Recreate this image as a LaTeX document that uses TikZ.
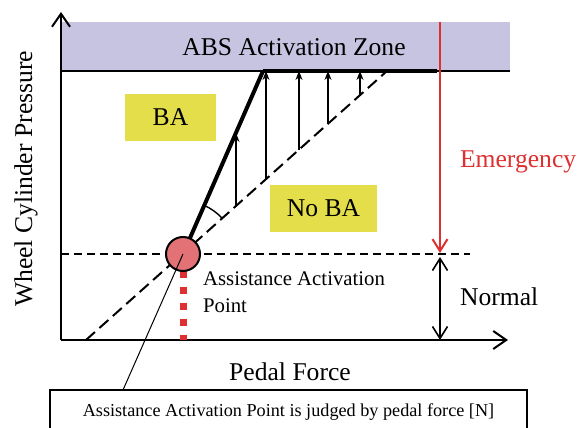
\documentclass[tikz,border=0pt]{standalone}
\usepackage{fontspec}
\setmainfont{Liberation Serif}
\usetikzlibrary{arrows.meta}

\definecolor{abszone}{RGB}{199,196,226}
\definecolor{bayellow}{RGB}{228,222,74}
\definecolor{aptfill}{RGB}{226,114,118}
\definecolor{emred}{RGB}{222,48,48}

\begin{document}
\begin{tikzpicture}[x=0.5pt, y=0.5pt,
    axis/.style={line width=1pt, -{Straight Barb[length=6.5pt, width=9pt]}},
    lift/.style={line width=0.6pt, -{Stealth[length=4.5pt, width=3.5pt]}},
    zonebox/.style={fill=bayellow, minimum width=45.5pt, minimum height=23.5pt, font=\fontsize{12.8}{15}\selectfont},
    big/.style={font=\fontsize{12.8}{15}\selectfont}]

    \clip (0,0) rectangle (580,428);

    %% Pressure vs pedal force diagram

    % ABS zone
    \fill[abszone] (61,357) rectangle (510,406);
    \node[big] (abs) at (294,381) {ABS Activation Zone};
    \draw[line width=0.9pt] (61,357) -- (510,357);
    \draw[line width=1.6pt] (263,357) -- (437,357);

    % Axes
    \coordinate (O) at (61,88);
    \draw[axis] (O) -- (61,416);
    \draw[axis] (O) -- (508,88);
    \node[big, rotate=90] (ylab) at (26,249) {Wheel Cylinder Pressure};
    \node[big] (xlab) at (290,56) {Pedal Force};

    % Activation level
    \draw[line width=0.8pt, dash pattern=on 4pt off 2.5pt] (O |- 0,174) -- (470,174);

    % Normal and BA characteristics
    \coordinate (nb0) at (86,88);
    \coordinate (nb1) at (387,357);
    \coordinate (ba1) at (263,357);
    \draw[line width=1pt, dash pattern=on 6pt off 3pt] (nb0) -- (nb1);
    \draw[line width=2pt] (183,174) -- (ba1);
    \draw[line width=0.7pt] (183,174) ++(41.8:26.5pt) arc[start angle=41.8, end angle=66.4, radius=26.5pt];

    % Assist arrows
    \draw[lift] (236,222) -- (236,295);
    \draw[lift] (266,249) -- (266,357);
    \draw[lift] (299,278) -- (299,357);
    \draw[lift] (328,304) -- (328,357);
    \draw[lift] (360,333) -- (360,357);

    % Activation point
    \draw[emred, line width=3.5pt, dash pattern=on 3.5pt off 4.5pt] (183,157) -- (183,88);
    \node[circle, draw, line width=1pt, fill=aptfill, minimum size=17pt, inner sep=0pt] (apt) at (183,174) {};
    \node[anchor=north west, align=left, font=\fontsize{10.4}{13.5}\selectfont] (aptlab) at (196,163)
        {Assistance Activation\\Point};

    % Labels in zones
    \node[zonebox] (ba) at (170.5,310.5) {BA};
    \node[zonebox, minimum width=53.5pt] (noba) at (323.5,219.5) {No BA};

    % Emergency and normal ranges
    \coordinate (em0) at (440,406);
    \coordinate (em1) at (440,175);
    \draw[emred, line width=1pt, -{Straight Barb[length=6pt, width=7.5pt]}] (em0) -- (em1);
    \node[big, emred, anchor=west] (emlab) at (453,266) {Emergency};
    \coordinate (nm0) at (440,171);
    \draw[line width=0.8pt, {Straight Barb[length=6pt, width=7.5pt]}-{Straight Barb[length=6pt, width=7.5pt]}] (nm0) -- (O -| nm0);
    \node[big, anchor=west] (nmlab) at (453,131) {Normal};

    % Note
    \node[draw, line width=0.8pt, minimum width=238.5pt, minimum height=22pt, font=\fontsize{9.1}{11}\selectfont] (note) at (288.5,16)
        {Assistance Activation Point is judged by pedal force [N]};
    \draw[line width=0.5pt] (apt.center) -- (123,38);

\end{tikzpicture}
\end{document}
